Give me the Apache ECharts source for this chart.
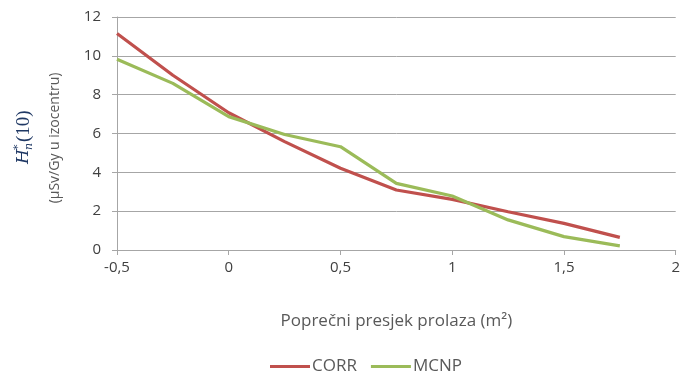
<!DOCTYPE html>
<html>
<head>
<meta charset="utf-8">
<script src="https://cdn.jsdelivr.net/npm/echarts@6/dist/echarts.min.js"></script>
<style>
  html, body { margin: 0; padding: 0; background: #fff; }
  #chart { width: 683px; height: 381px; }
</style>
</head>
<body>
<div id="chart"></div>
<script>
// Cross-section of the passage (m²) and the dose per Gy at isocentre
const crossSections = [-0.5, -0.25, 0, 0.25, 0.5, 0.75, 1, 1.25, 1.5, 1.75];
const corrValues = [11.15, 9.0, 7.07, 5.58, 4.21, 3.09, 2.61, 1.97, 1.37, 0.65];
const mcnpValues = [9.82, 8.58, 6.87, 5.95, 5.32, 3.43, 2.78, 1.55, 0.69, 0.21];
const seriesNames = ['CORR', 'MCNP'];
const xTitle = 'Poprečni presjek prolaza (m²)';
const yTitleUnits = '(µSv/Gy u izocentru)';

const FONT = '"Open Sans", "Liberation Sans", sans-serif';
const TEXT = '#595959';
const GRID = '#a6a6a6';
const NAVY = '#1f3864';

const pairs = (vals) => crossSections.map((x, i) => [x, vals[i]]);

const chart = echarts.init(document.getElementById('chart'));
chart.setOption({
  animation: false,
  textStyle: { fontFamily: FONT },
  grid: { left: 117, right: 1, top: 17, bottom: 131, containLabel: false },
  xAxis: {
    type: 'value', min: -0.5, max: 2, interval: 0.5,
    name: xTitle, nameLocation: 'middle', nameGap: 63,
    nameTextStyle: { color: TEXT, fontSize: 17, fontFamily: FONT },
    axisLine: { show: true, onZero: false, lineStyle: { color: GRID, width: 1 } },
    axisTick: { show: true, length: 5, lineStyle: { color: GRID } },
    splitLine: { show: false },
    axisLabel: {
      color: '#404040', fontSize: 15, margin: 10,
      formatter: (v) => String(v).replace('.', ',')
    }
  },
  yAxis: {
    type: 'value', min: 0, max: 12, interval: 2,
    axisLine: { show: true, onZero: false, lineStyle: { color: GRID, width: 1 } },
    axisTick: { show: true, length: 5, lineStyle: { color: GRID } },
    splitLine: { show: true, lineStyle: { color: GRID, width: 1 } },
    axisLabel: { color: '#404040', fontSize: 15, margin: 16 }
  },
  legend: {
    top: 358, left: 270, padding: 0,
    itemWidth: 40, itemHeight: 3, itemGap: 14,
    icon: 'rect',
    textStyle: { color: TEXT, fontSize: 17, fontFamily: FONT, padding: [0, 0, 0, -3] },
    data: seriesNames
  },
  series: [
    {
      name: seriesNames[0], type: 'line', data: pairs(corrValues),
      showSymbol: false, symbol: 'none',
      lineStyle: { color: '#c0504d', width: 3.2 }, itemStyle: { color: '#c0504d' }
    },
    {
      name: seriesNames[1], type: 'line', data: pairs(mcnpValues),
      showSymbol: false, symbol: 'none',
      lineStyle: { color: '#9bbb59', width: 3.2 }, itemStyle: { color: '#9bbb59' }
    }
  ],
  graphic: [
    {
      type: 'group', x: 0, y: 138, rotation: Math.PI / 2,
      children: [
        { type: 'text', x: -26, y: 24, style: { text: 'H', fontFamily: '"DejaVu Serif", serif', fontStyle: 'italic', fontSize: 17, fill: NAVY, verticalAlign: 'middle', align: 'left' } },
        { type: 'text', x: -12, y: 18, style: { text: '*', fontFamily: '"DejaVu Serif", serif', fontSize: 11, fill: NAVY, verticalAlign: 'middle', align: 'left' } },
        { type: 'text', x: -12, y: 29, style: { text: 'n', fontFamily: '"DejaVu Serif", serif', fontStyle: 'italic', fontSize: 11, fill: NAVY, verticalAlign: 'middle', align: 'left' } },
        { type: 'text', x: -4, y: 24, style: { text: '(10)', fontFamily: '"Liberation Serif", serif', fontSize: 19, fill: NAVY, verticalAlign: 'middle', align: 'left' } },
        { type: 'text', x: 0, y: 55, style: { text: yTitleUnits, fontFamily: FONT, fontSize: 14, fill: TEXT, verticalAlign: 'middle', align: 'center' } }
      ]
    }
  ]
});
</script>
</body>
</html>
